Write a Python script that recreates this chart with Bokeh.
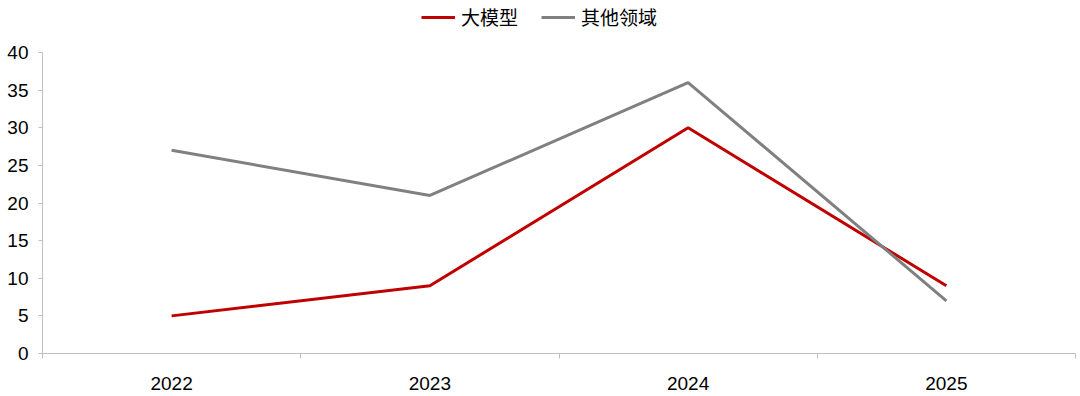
from bokeh.plotting import figure
from bokeh.layouts import column
from bokeh.models import FixedTicker, Legend, LegendItem, Range1d
from bokeh.embed import file_html
from bokeh.resources import INLINE

years = ["2022", "2023", "2024", "2025"]
llm = [5, 9, 30, 9]
other = [27, 21, 36, 7]
series_names = ["大模型", "其他领域"]
colors = ["#C00000", "#808080"]

xs = [i + 0.5 for i in range(len(years))]

# legend strip
lf = figure(width=1080, height=34, output_backend="svg", toolbar_location=None,
            x_range=Range1d(0, len(years)), y_range=Range1d(1000, 1001),
            x_axis_type=None, y_axis_type=None,
            min_border_left=0, min_border_right=0, min_border_top=0, min_border_bottom=0)
lf.outline_line_color = None
lf.grid.grid_line_color = None
l1 = lf.line(xs, llm, line_color=colors[0], line_width=3)
l2 = lf.line(xs, other, line_color=colors[1], line_width=3)
legend = Legend(items=[LegendItem(label=series_names[0], renderers=[l1]),
                       LegendItem(label=series_names[1], renderers=[l2])],
                orientation="horizontal", location=(379, 4),
                label_text_font="Noto Sans CJK SC", label_text_font_size="19px",
                label_text_color="#000000", glyph_width=34, spacing=23,
                label_standoff=6, border_line_color=None, padding=0, margin=0,
                background_fill_alpha=0)
lf.add_layout(legend, "center")

p = figure(width=1080, height=362, output_backend="svg", toolbar_location=None,
           x_range=Range1d(0, len(years)), y_range=Range1d(0, 40),
           min_border_left=42, min_border_right=5, min_border_bottom=43, min_border_top=18)
p.outline_line_color = None
p.grid.grid_line_color = None

p.line(xs, llm, line_color=colors[0], line_width=3)
p.line(xs, other, line_color=colors[1], line_width=3)

p.xaxis.ticker = FixedTicker(ticks=xs, minor_ticks=list(range(len(years) + 1)))
p.xaxis.major_label_overrides = {x: y for x, y in zip(xs, years)}
p.xaxis.major_tick_out = 0
p.xaxis.major_tick_in = 0
p.xaxis.minor_tick_out = 5
p.xaxis.minor_tick_in = 0
p.xaxis.minor_tick_line_color = "#bfbfbf"
p.xaxis.axis_line_color = "#bfbfbf"
p.xaxis.major_label_standoff = 18
p.xaxis.major_label_text_font = "Liberation Sans"
p.xaxis.major_label_text_font_size = "19px"
p.xaxis.major_label_text_color = "#000000"

p.yaxis.ticker = FixedTicker(ticks=list(range(0, 41, 5)))
p.yaxis.minor_tick_line_color = None
p.yaxis.major_tick_out = 4
p.yaxis.major_tick_in = 0
p.yaxis.major_tick_line_color = "#bfbfbf"
p.yaxis.axis_line_color = "#bfbfbf"
p.yaxis.major_label_standoff = 10
p.yaxis.major_label_text_font = "Liberation Sans"
p.yaxis.major_label_text_font_size = "19px"
p.yaxis.major_label_text_color = "#000000"

layout = column(lf, p, spacing=0)
open("out.html", "w").write(file_html(layout, INLINE))
